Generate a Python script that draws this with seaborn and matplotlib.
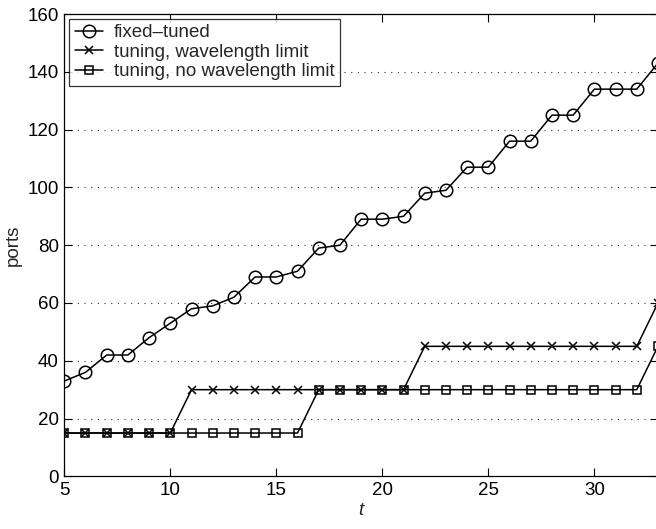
import numpy as np
import pandas as pd
import matplotlib
matplotlib.use("Agg")
import matplotlib.pyplot as plt
import seaborn as sns

# data
t = list(range(5, 34))
fixed_tuned = [33, 36, 42, 42, 48, 53, 58, 59, 62, 69, 69, 71, 79, 80, 89,
               89, 90, 98, 99, 107, 107, 116, 116, 125, 125, 134, 134, 134, 143]
tuning_limit = [15] * 6 + [30] * 11 + [45] * 11 + [60]
tuning_nolimit = [15] * 12 + [30] * 16 + [45]

labels = ["fixed\u2013tuned", "tuning, wavelength limit", "tuning, no wavelength limit"]
markers = ["o", "x", "s"]
msizes = [9, 6, 5.5]

sns.set_style("ticks")
plt.rcParams["font.family"] = ["Liberation Sans", "DejaVu Sans"]
plt.rcParams["font.size"] = 13.5
plt.rcParams["xtick.direction"] = "in"
plt.rcParams["ytick.direction"] = "in"

fig = plt.figure(figsize=(6.56, 5.29), dpi=100)
ax = fig.add_axes([0.098, 0.0995, 0.905, 0.874])

series = [fixed_tuned, tuning_limit, tuning_nolimit]
for vals, lab, mk, ms in zip(series, labels, markers, msizes):
    df = pd.DataFrame({"t": t, "ports": vals})
    sns.lineplot(data=df, x="t", y="ports", ax=ax, color="black", linewidth=1.1,
                 marker=mk, markersize=ms, markerfacecolor="none",
                 markeredgecolor="black", markeredgewidth=1.1, label=lab)

ax.set_xlim(5, 33)
ax.set_ylim(0, 160)
ax.set_xticks([5, 10, 15, 20, 25, 30])
ax.set_yticks(np.arange(0, 161, 20))
for y in range(20, 160, 20):
    ax.axhline(y, color="#333333", linestyle=(0, (1, 5)), linewidth=0.8, zorder=0)

ax.tick_params(top=True, right=True, length=6, width=0.8, labelsize=13.5,
               colors="black", pad=4)
for s in ax.spines.values():
    s.set_visible(True)
    s.set_linewidth(0.9)
    s.set_color("black")

ax.set_xlabel("t", fontstyle="italic", fontsize=13.5, labelpad=2)
ax.set_ylabel("ports", fontsize=13.5, labelpad=4)

leg = ax.legend(loc="upper left", frameon=True, fancybox=False, edgecolor="black",
                fontsize=13.5, borderaxespad=0.25, handlelength=1.5, labelspacing=0.12,
                borderpad=0.3, handletextpad=0.6)
leg.get_frame().set_linewidth(0.9)

fig.savefig("out.png", dpi=100)
